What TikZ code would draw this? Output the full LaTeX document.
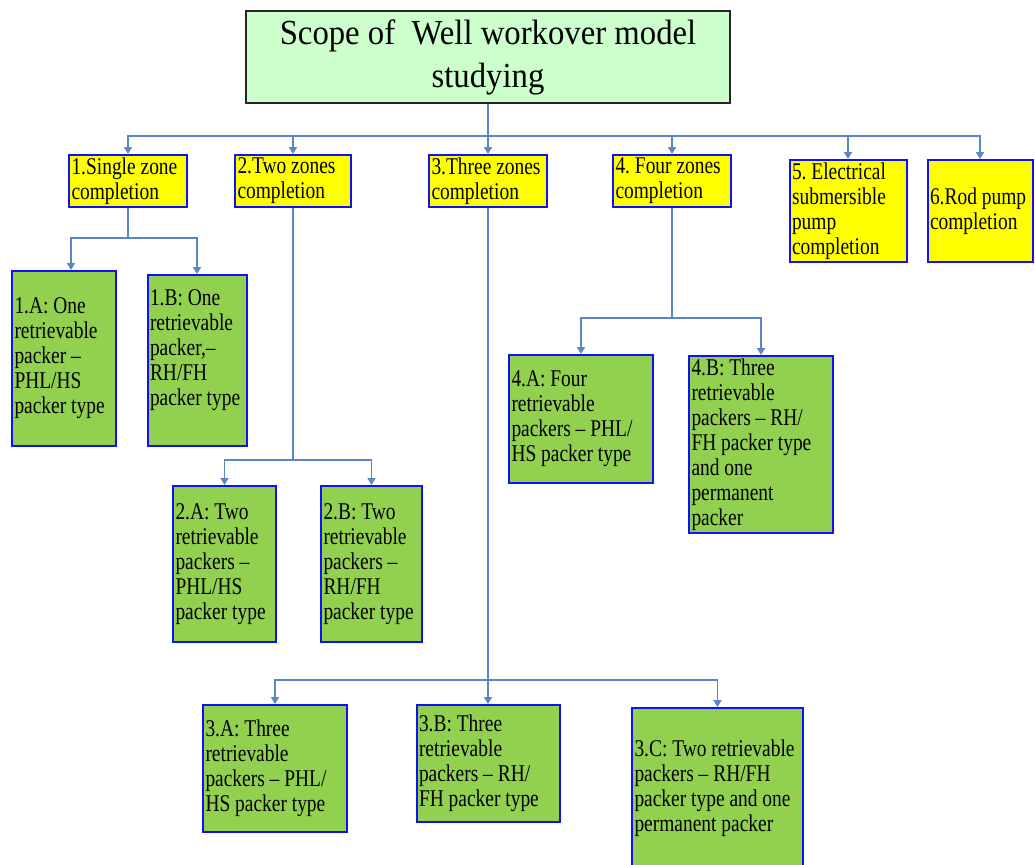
\documentclass[tikz,border=0pt]{standalone}
\usepackage{fontspec}
\setmainfont{Liberation Serif}
\newfontfamily\boxfont[FakeStretch=0.81]{Liberation Serif}
\newfontfamily\headfont[FakeStretch=0.93]{Liberation Serif}
\usetikzlibrary{arrows.meta}
\definecolor{headfill}{HTML}{CCFFCC}
\definecolor{zonefill}{HTML}{FFFF00}
\definecolor{leaffill}{HTML}{92D050}
\definecolor{edgeblue}{HTML}{1010FF}
\definecolor{linkblue}{HTML}{5A86C8}
\begin{document}
\frenchspacing
\begin{tikzpicture}[x=1pt,y=-1pt]
\tikzstyle{every node}+=[inner xsep=2.5pt, inner ysep=0pt]
\tikzstyle{head}=[draw=black!85, line width=2pt, fill=headfill, align=flush center, font=\headfont\fontsize{35.2pt}{43pt}\selectfont]
\tikzstyle{zone}=[draw=edgeblue, line width=2pt, fill=zonefill, align=flush left, font=\boxfont\fontsize{24pt}{25pt}\selectfont]
\tikzstyle{leaf}=[zone, fill=leaffill]
\tikzstyle{link}=[draw=linkblue, line width=1.8pt]
\tikzstyle{arr}=[link, -{Triangle[width=8pt,length=7pt]}]
\path[use as bounding box, clip] (0,0) rectangle (1035,864);
\node[head, minimum width=484pt, minimum height=92pt, text width=470pt] (scope) at (488,57) {Scope of\ \ Well workover model\\studying};
\node[zone, minimum width=118pt, minimum height=52pt, text width=113pt] (z1) at (128,181) {1.Single~zone\\completion};
\node[zone, minimum width=116pt, minimum height=52pt, text width=111pt] (z2) at (293,181) {2.Two~zones\\completion};
\node[zone, minimum width=118pt, minimum height=52pt, text width=113pt] (z3) at (488,181) {3.Three~zones\\completion};
\node[zone, minimum width=118pt, minimum height=52pt, text width=113pt] (z4) at (672,181) {4. Four~zones\\completion};
\node[zone, minimum width=117pt, minimum height=102pt, text width=112pt] (z5) at (848,211) {5. Electrical\\submersible\\pump\\completion};
\node[zone, minimum width=105pt, minimum height=102pt, text width=100pt] (z6) at (980,211) {6.Rod~pump\\completion};
\node[leaf, minimum width=104pt, minimum height=175pt, text width=99pt] (a1) at (64,358.5) {1.A: One\\retrievable\\packer –\\PHL/HS\\packer~type};
\node[leaf, minimum width=99pt, minimum height=171pt, text width=94pt] (b1) at (197,360.5) {1.B: One\\retrievable\\packer,–\\RH/FH\\packer~type\\~};
\node[leaf, minimum width=103pt, minimum height=156pt, text width=98pt] (a2) at (224.5,564) {2.A: Two\\retrievable\\packers –\\PHL/HS\\packer~type};
\node[leaf, minimum width=101pt, minimum height=156pt, text width=96pt] (b2) at (371.5,564) {2.B: Two\\retrievable\\packers –\\RH/FH\\packer~type};
\node[leaf, minimum width=144pt, minimum height=128pt, text width=139pt] (a4) at (581,419) {4.A: Four\\retrievable\\packers – PHL/\\HS packer type};
\node[leaf, minimum width=144pt, minimum height=177pt, text width=139pt] (b4) at (761,444.5) {4.B: Three\\retrievable\\packers – RH/\\FH packer type\\and one\\permanent\\packer};
\node[leaf, minimum width=144pt, minimum height=127pt, text width=139pt] (a3) at (275,768.5) {3.A: Three\\retrievable\\packers – PHL/\\HS packer type};
\node[leaf, minimum width=143pt, minimum height=117pt, text width=138pt] (b3) at (488,763.5) {3.B: Three\\retrievable\\packers – RH/\\FH packer type};
\node[leaf, minimum width=171pt, minimum height=160pt, text width=166pt] (c3) at (717.5,788) {3.C: Two~retrievable\\packers – RH/FH\\packer type and~one\\permanent packer};
\coordinate (j0) at (488,136);
\coordinate (j1) at (128,238);
\coordinate (j2) at (293,460);
\coordinate (j3) at (488,680);
\coordinate (j4) at (672,318);
\draw[link] (scope.south) -- (j0);
\foreach \z in {z1,z2,z3,z4,z5,z6}
  \draw[arr] (j0) -| (\z.north);
\draw[link] (z1.south) -- (j1);
\draw[arr] (j1) -| ([xshift=7pt]a1.north);
\draw[arr] (j1) -| (b1.north);
\draw[link] (z2.south) -- (j2);
\draw[arr] (j2) -| (a2.north);
\draw[arr] (j2) -| (b2.north);
\draw[link] (z3.south) -- (j3);
\draw[arr] (j3) -| (a3.north);
\draw[arr] (j3) -- (b3.north);
\draw[arr] (j3) -| (c3.north);
\draw[link] (z4.south) -- (j4);
\draw[arr] (j4) -| (a4.north);
\draw[arr] (j4) -| (b4.north);
\end{tikzpicture}
\end{document}
